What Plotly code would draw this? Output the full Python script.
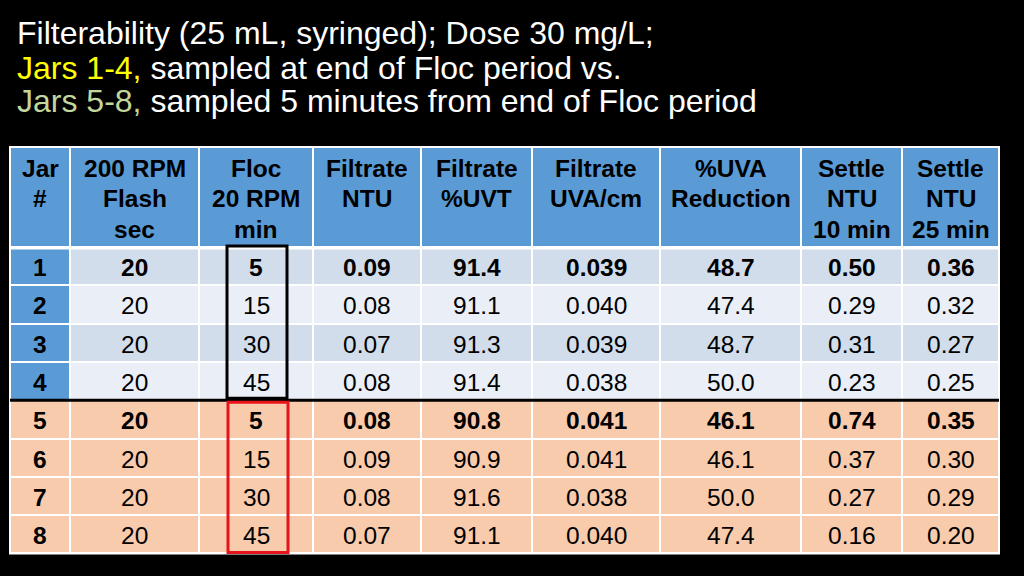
import plotly.graph_objects as go

# ---- data ----
header_lines = [["Jar", "#"], ["200 RPM", "Flash", "sec"], ["Floc", "20 RPM", "min"],
                ["Filtrate", "NTU"], ["Filtrate", "%UVT"], ["Filtrate", "UVA/cm"],
                ["%UVA", "Reduction"], ["Settle", "NTU", "10 min"], ["Settle", "NTU", "25 min"]]
jar = [1, 2, 3, 4, 5, 6, 7, 8]
flash_sec = [20, 20, 20, 20, 20, 20, 20, 20]
floc_min = [5, 15, 30, 45, 5, 15, 30, 45]
filt_ntu = [0.09, 0.08, 0.07, 0.08, 0.08, 0.09, 0.08, 0.07]
filt_uvt = [91.4, 91.1, 91.3, 91.4, 90.8, 90.9, 91.6, 91.1]
filt_uva = [0.039, 0.040, 0.039, 0.038, 0.041, 0.041, 0.038, 0.040]
uva_red = [48.7, 47.4, 48.7, 50.0, 46.1, 46.1, 50.0, 47.4]
settle10 = [0.50, 0.29, 0.31, 0.23, 0.74, 0.37, 0.27, 0.16]
settle25 = [0.36, 0.32, 0.27, 0.25, 0.35, 0.30, 0.29, 0.20]
bold_rows = [0, 4]
group_a_rows = [0, 1, 2, 3]   # jars 1-4
group_b_rows = [4, 5, 6, 7]   # jars 5-8

# ---- layout constants (pixels) ----
W, H = 1024, 576
col_edges = [10, 70, 199, 313, 421, 532, 660, 801, 902, 999]
tbl_top = 147
hdr_h = 100
row_h = 38.3
row_edges = [tbl_top, tbl_top + hdr_h] + [tbl_top + hdr_h + row_h * (k + 1) for k in range(len(jar))]

BLUE = "#5B9BD5"
BAND1 = "#D2DDEC"
BAND2 = "#EAEFF7"
PEACH = "#F8CBAD"
FONT = "Liberation Sans, Arial, Helvetica, sans-serif"
CELL_SIZE = 24.5
HDR_SIZE = 24.5
TITLE_SIZE = 32

fmts = ["d", "d", "d", ".2f", ".1f", ".3f", ".1f", ".2f", ".2f"]
columns = [jar, flash_sec, floc_min, filt_ntu, filt_uvt, filt_uva, uva_red, settle10, settle25]

# colour category grid: 0 blue, 1 band1, 2 band2, 3 peach
z = [[0] * len(columns)]
for i in range(len(jar)):
    if i in group_a_rows:
        band = 1 if i % 2 == 0 else 2
        z.append([0] + [band] * (len(columns) - 1))
    else:
        z.append([3] * len(columns))

fig = go.Figure()
fig.add_trace(go.Heatmap(
    x=col_edges, y=row_edges, z=z, zmin=0, zmax=3,
    colorscale=[[0, BLUE], [1 / 3, BAND1], [2 / 3, BAND2], [1, PEACH]],
    showscale=False, xgap=2, ygap=2, hoverinfo="skip",
))

annotations = []
# header texts
line_gap = 30.5
for c, lines in enumerate(header_lines):
    cx = (col_edges[c] + col_edges[c + 1]) / 2
    for k, ln in enumerate(lines):
        annotations.append(dict(
            text="<b>" + ln + "</b>", x=cx, y=168 + line_gap * k, xref="x", yref="y",
            xanchor="center", yanchor="middle", showarrow=False,
            font=dict(family=FONT, size=HDR_SIZE, color="black")))
# body texts
for c, (vals, f) in enumerate(zip(columns, fmts)):
    cx = (col_edges[c] + col_edges[c + 1]) / 2
    for r, v in enumerate(vals):
        s = format(v, f)
        if c == 0 or r in bold_rows:
            s = "<b>" + s + "</b>"
        cy = (row_edges[r + 1] + row_edges[r + 2]) / 2 + 1.5
        annotations.append(dict(
            text=s, x=cx, y=cy, xref="x", yref="y", xanchor="center", yanchor="middle",
            showarrow=False, font=dict(family=FONT, size=CELL_SIZE, color="black")))

# title
title_lines = [
    "Filterability (25 mL, syringed); Dose 30 mg/L;",
    "<span style='color:#FFFF00'>Jars 1-4,</span> sampled at end of Floc period vs.",
    "<span style='color:#C3D69B'>Jars 5-8,</span> sampled 5 minutes from end of Floc period",
]
title_y = [33, 68, 101]
for t, yy in zip(title_lines, title_y):
    annotations.append(dict(
        text=t, x=15, y=yy, xref="x", yref="y", xanchor="left", yanchor="middle",
        showarrow=False, font=dict(family=FONT, size=TITLE_SIZE, color="white")))

sep_y = row_edges[2 + group_a_rows[-1]]
shapes = [
    # white backing for grid lines
    dict(type="rect", xref="x", yref="y", layer="below", x0=col_edges[0] - 1, x1=col_edges[-1] + 1,
         y0=row_edges[0] - 1, y1=row_edges[-1] + 1, fillcolor="white", line=dict(width=0)),
    # thicker white line under header
    dict(type="line", xref="x", yref="y", x0=col_edges[0], x1=col_edges[-1],
         y0=row_edges[1] + 1, y1=row_edges[1] + 1, line=dict(color="white", width=3)),
    # separator between jar groups
    dict(type="line", xref="x", yref="y", x0=col_edges[0], x1=col_edges[-1],
         y0=sep_y, y1=sep_y, line=dict(color="black", width=3)),
    # black box around Floc jars 1-4
    dict(type="rect", xref="x", yref="y", x0=227, x1=287,
         y0=row_edges[1] - 1, y1=sep_y - 2, line=dict(color="black", width=3)),
    # red box around Floc jars 5-8
    dict(type="rect", xref="x", yref="y", x0=228, x1=288,
         y0=sep_y + 2, y1=row_edges[-1] - 1, line=dict(color="#E8141B", width=3)),
]

fig.update_layout(
    width=W, height=H,
    margin=dict(l=0, r=0, t=0, b=0),
    paper_bgcolor="black", plot_bgcolor="black",
    xaxis=dict(range=[0, W], visible=False, fixedrange=True),
    yaxis=dict(range=[H, 0], visible=False, fixedrange=True),
    shapes=shapes, annotations=annotations,
)

fig.write_html("out.html", config={"displayModeBar": False},
               post_script="document.body.style.margin='0';document.body.style.overflow='hidden';")
